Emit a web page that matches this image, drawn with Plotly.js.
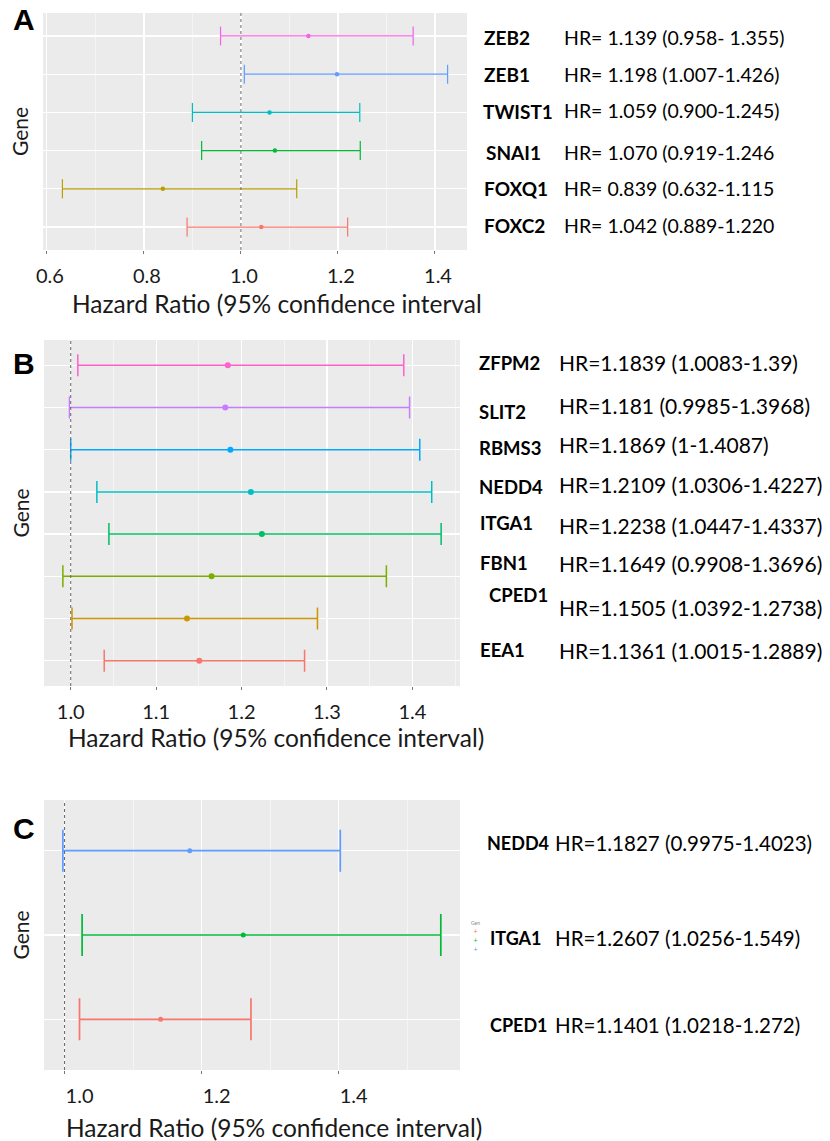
<!DOCTYPE html>
<html><head><meta charset="utf-8">
<script src="https://cdn.plot.ly/plotly-3.0.1.min.js"></script>
<style>html,body{margin:0;padding:0;background:#fff}#chart{width:830px;height:1141px}</style>
</head><body><div id="chart"></div>
<script>
// ---------- Panel A (bottom to top, ggplot alphabetical order) ----------
const geneA = ['FOXC2','FOXQ1','SNAI1','TWIST1','ZEB1','ZEB2'];
const hrA   = [1.042, 0.839, 1.070, 1.059, 1.198, 1.139];
const lowA  = [0.889, 0.632, 0.919, 0.900, 1.007, 0.958];
const highA = [1.220, 1.115, 1.246, 1.245, 1.426, 1.355];
const colorA = ['#F8766D','#B79F00','#00BA38','#00BFC4','#619CFF','#F564E3'];
// right-hand text (top to bottom, as printed)
const labelGeneA = ['ZEB2','ZEB1','TWIST1','SNAI1','FOXQ1','FOXC2'];
const labelHrA = ['HR= 1.139 (0.958- 1.355)','HR= 1.198 (1.007-1.426)','HR= 1.059 (0.900-1.245)',
                  'HR= 1.070 (0.919-1.246','HR= 0.839 (0.632-1.115','HR= 1.042 (0.889-1.220'];

// ---------- Panel B ----------
const geneB = ['CPED1','EEA1','FBN1','ITGA1','NEDD4','RBMS3','SLIT2','ZFPM2'];
const hrB   = [1.1505, 1.1361, 1.1649, 1.2238, 1.2109, 1.1869, 1.181, 1.1839];
const lowB  = [1.0392, 1.0015, 0.9908, 1.0447, 1.0306, 1.0, 0.9985, 1.0083];
const highB = [1.2738, 1.2889, 1.3696, 1.4337, 1.4227, 1.4087, 1.3968, 1.39];
const colorB = ['#F8766D','#CD9600','#7CAE00','#00BE67','#00BFC4','#00A9FF','#C77CFF','#FF61CC'];
const labelGeneB = ['ZFPM2','SLIT2','RBMS3','NEDD4','ITGA1','FBN1','CPED1','EEA1'];
const labelHrB = ['HR=1.1839 (1.0083-1.39)','HR=1.181 (0.9985-1.3968)','HR=1.1869 (1-1.4087)',
                  'HR=1.2109 (1.0306-1.4227)','HR=1.2238 (1.0447-1.4337)','HR=1.1649 (0.9908-1.3696)',
                  'HR=1.1505 (1.0392-1.2738)','HR=1.1361 (1.0015-1.2889)'];

// ---------- Panel C ----------
const geneC = ['CPED1','ITGA1','NEDD4'];
const hrC   = [1.1401, 1.2607, 1.1827];
const lowC  = [1.0218, 1.0256, 0.9975];
const highC = [1.272, 1.549, 1.4023];
const colorC = ['#F8766D','#00BA38','#619CFF'];
const labelGeneC = ['NEDD4','ITGA1','CPED1'];
const labelHrC = ['HR=1.1827 (0.9975-1.4023)','HR=1.2607 (1.0256-1.549)','HR=1.1401 (1.0218-1.272)'];

const REF_HR = 1;
const xTitleA = 'Hazard Ratio (95% confidence interval';
const xTitleBC = 'Hazard Ratio (95% confidence interval)';
const yTitle = 'Gene';

// ---------- helpers ----------
const W = 830, H = 1141;
const fx = x => x / W;
const fy = y => 1 - y / H;
const FONT = 'Lato, "Open Sans", sans-serif';
const INK = '#1a1a1a';

const traces = [];
function addPanel(genes, hr, low, high, colors, xa, ya, st) {
  genes.forEach((g, i) => {
    traces.push({
      type: 'scatter', mode: 'markers', name: g,
      x: [hr[i]], y: [g], xaxis: xa, yaxis: ya,
      marker: {color: colors[i], size: st.ms},
      error_x: {type: 'data', symmetric: false,
                array: [high[i] - hr[i]], arrayminus: [hr[i] - low[i]],
                color: colors[i], thickness: st.lw, width: st.cap},
      showlegend: false
    });
  });
}
addPanel(geneA, hrA, lowA, highA, colorA, 'x', 'y', {ms: 4.5, lw: 1.2, cap: 9.5});
addPanel(geneB, hrB, lowB, highB, colorB, 'x2', 'y2', {ms: 6, lw: 1.5, cap: 11});
addPanel(geneC, hrC, lowC, highC, colorC, 'x3', 'y3', {ms: 5, lw: 1.7, cap: 21});

function xax(domain, anchor, range, tick0, dtick, minorDtick, shift) {
  return {
    domain, anchor, range, tick0, dtick, tickformat: '.1f',
    showgrid: true, gridcolor: '#ffffff', gridwidth: 1.2,
    minor: {dtick: minorDtick, showgrid: true, gridcolor: '#ffffff', gridwidth: 0.5},
    zeroline: false, showline: false,
    ticks: 'outside', ticklen: 3, tickwidth: 1, tickcolor: '#777',
    ticklabelstandoff: 5, ticklabelshift: shift,
    tickfont: {family: FONT, size: 20, color: INK},
    fixedrange: true
  };
}
function yax(domain, anchor, genes) {
  return {
    domain, anchor, type: 'category', categoryorder: 'array', categoryarray: genes,
    range: [-0.6, genes.length - 0.4],
    showgrid: true, gridcolor: '#ffffff', gridwidth: 1.2,
    showticklabels: false, ticks: '', zeroline: false, showline: false,
    title: {text: yTitle, font: {family: FONT, size: 21, color: INK}, standoff: 7},
    fixedrange: true
  };
}

const refLine = (xr, yr) => ({type: 'line', xref: xr, yref: yr + ' domain', x0: REF_HR, x1: REF_HR,
  y0: 0, y1: 1, layer: 'above', line: {color: '#666', width: 1, dash: 'dot'}});

const ann = [];
function textCol(genes, hrs, xg, xh, ysG, ysH, sg, sh) {
  genes.forEach((g, i) => {
    ann.push({xref: 'paper', yref: 'paper', x: fx(xg[i]), y: fy(ysG[i]), xanchor: 'left', yanchor: 'middle',
      showarrow: false, text: '<b>' + g + '</b>', font: {family: FONT, size: sg, color: '#000'}});
    ann.push({xref: 'paper', yref: 'paper', x: fx(xh), y: fy(ysH[i]), xanchor: 'left', yanchor: 'middle',
      showarrow: false, text: hrs[i], font: {family: FONT, size: sh, color: '#000'}});
  });
}
textCol(labelGeneA, labelHrA, [482,482,481,484,482,482], 562,
        [38,75,112,153,189,225], [37,74,111,153,188,225], 19, 19.5);
textCol(labelGeneB, labelHrB, [477,477,477,477,478,478,487,478], 557,
        [363,412,448,487,523,563,595,650], [362,405,445,485,525,563,607,650], 18.5, 21);
textCol(labelGeneC, labelHrC, [485,488,488], 553, [843,938,1025], [843,938,1025], 18, 20.5);

// x-axis titles (offset to the right of the panels, as in the reference)
[[xTitleA, 277, 303], [xTitleBC, 276, 737], [xTitleBC, 274, 1127]].forEach(([t, x, y]) => ann.push({
  xref: 'paper', yref: 'paper', x: fx(x), y: fy(y), xanchor: 'center', yanchor: 'middle',
  showarrow: false, text: t, font: {family: FONT, size: 24.5, color: INK}}));

// panel letters
[['A',20],['B',364],['C',829]].forEach(([t, y]) => ann.push({xref: 'paper', yref: 'paper',
  x: fx(24), y: fy(y), xanchor: 'center', yanchor: 'middle', showarrow: false,
  text: '<b>' + t + '</b>', font: {family: 'Liberation Sans, Arial, sans-serif', size: 30, color: '#000'}}));

// stray tiny legend remnant in panel C
ann.push({xref: 'paper', yref: 'paper', x: fx(475), y: fy(936), xanchor: 'center', yanchor: 'middle',
  showarrow: false, borderpad: 0,
  text: '<span style="font-size:5px;fill:#888">Gen</span><br>' +
        colorC.map(c => '<span style="fill:' + c + '">+</span>').join('<br>'),
  font: {family: FONT, size: 7, color: '#777'}});

const layout = {
  width: W, height: H, margin: {l: 0, r: 0, t: 0, b: 0},
  paper_bgcolor: '#ffffff', plot_bgcolor: '#EBEBEB',
  font: {family: FONT, color: INK},
  showlegend: false,
  xaxis:  xax([fx(43), fx(467)], 'y',  [0.592, 1.466], 0.6, 0.2, 0.1, 3),
  xaxis2: xax([fx(44), fx(460)], 'y2', [0.9687, 1.4558], 1.0, 0.1, 0.05, 0),
  xaxis3: xax([fx(44), fx(460)], 'y3', [0.970, 1.577], 1.0, 0.2, 0.1, 15),
  yaxis:  yax([fy(250), fy(13)],   'x',  geneA),
  yaxis2: yax([fy(686), fy(340)],  'x2', geneB),
  yaxis3: yax([fy(1070), fy(800)], 'x3', geneC),
  shapes: [refLine('x', 'y'), refLine('x2', 'y2'), refLine('x3', 'y3')],
  annotations: ann
};

Plotly.newPlot('chart', traces, layout, {staticPlot: true, displayModeBar: false});
</script>
</body></html>
